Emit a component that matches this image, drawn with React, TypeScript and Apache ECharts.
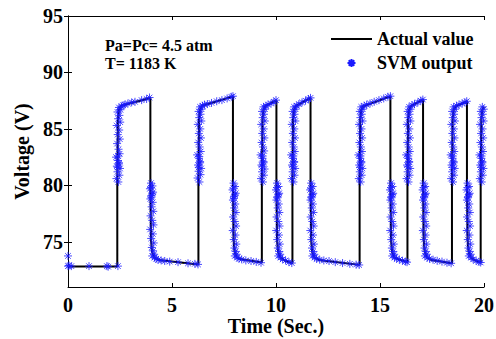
import React, { useEffect, useRef } from "react";
import * as echarts from "echarts";

const TIME_TICKS = [0, 5, 10, 15, 20];
const VOLT_TICKS = [75, 80, 85, 90, 95];
const SERIES_NAMES = ["Actual value", "SVM output"];
const NOTE_LINES = ["Pa=Pc= 4.5 atm", "T= 1183 K"];
const X_TITLE = "Time (Sec.)";
const Y_TITLE = "Voltage (V)";

// Actual value: [time (s), voltage (V)]
const ACTUAL: number[][] = [
  [0, 72.82], [2.37, 72.82], [2.37, 80.2], [2.4, 85.9], [2.45, 86.7], [2.55, 87.05], [3.96, 87.74],
  [3.96, 80.2], [3.99, 75.2], [4.04, 74.1], [4.15, 73.6], [4.35, 73.4], [6.27, 73.0],
  [6.27, 80.2], [6.3, 85.9], [6.35, 86.7], [6.45, 87.05], [7.93, 87.88],
  [7.93, 80.2], [7.96, 75.2], [8.01, 74.1], [8.12, 73.6], [8.32, 73.45], [9.32, 73.17],
  [9.32, 80.2], [9.35, 85.9], [9.4, 86.7], [9.5, 87.05], [10.02, 87.53],
  [10.02, 80.2], [10.05, 75.2], [10.1, 74.1], [10.21, 73.6], [10.41, 73.35], [10.79, 73.1],
  [10.79, 80.2], [10.82, 85.9], [10.87, 86.7], [10.97, 87.05], [11.66, 87.74],
  [11.66, 80.2], [11.69, 75.2], [11.74, 74.1], [11.85, 73.6], [12.05, 73.4], [14.02, 72.96],
  [14.02, 80.2], [14.05, 85.9], [14.1, 86.7], [14.2, 87.0], [15.5, 87.88],
  [15.5, 80.2], [15.53, 75.2], [15.58, 74.1], [15.69, 73.6], [15.89, 73.45], [16.32, 73.2],
  [16.32, 80.2], [16.35, 85.9], [16.4, 86.7], [16.5, 87.05], [17.07, 87.6],
  [17.07, 80.2], [17.1, 75.2], [17.15, 74.1], [17.26, 73.6], [17.46, 73.4], [18.46, 73.1],
  [18.46, 80.2], [18.49, 85.9], [18.54, 86.7], [18.64, 87.0], [19.18, 87.43],
  [19.18, 80.2], [19.21, 75.2], [19.26, 74.1], [19.37, 73.6], [19.57, 73.35], [19.84, 73.17],
  [19.84, 80.2], [19.87, 85.9], [19.92, 86.7], [20, 86.95],
];

// SVM output samples, 0 - 6.3 s
const SVM_PART_1: number[][] = [
  [0, 73.75], [0, 72.85], [0.05, 72.9], [0.16, 72.85], [1.01, 72.85], [1.87, 72.85], [1.93, 72.8], [2.4, 72.85],
  [2.42, 80.3], [2.33, 80.6], [2.47, 80.9], [2.38, 81.2], [2.5, 81.5], [2.35, 81.7], [2.45, 81.9], [2.4, 82.2],
  [2.31, 82.5], [2.48, 82.8], [2.43, 83.2], [2.36, 83.7], [2.49, 84.1], [2.39, 84.5], [2.46, 84.9], [2.34, 85.3],
  [2.51, 85.6], [2.41, 85.9], [2.47, 86.2], [2.38, 86.5], [2.52, 86.7], [2.45, 86.9],
  [2.39, 81.6], [2.45, 82.0], [2.41, 82.6],
  [2.58, 87.0], [2.65, 87.1], [2.73, 87.15], [2.88, 87.25], [3.06, 87.35], [3.22, 87.4], [3.54, 87.55], [3.78, 87.65], [3.92, 87.78],
  [3.99, 80.2], [4.06, 79.95], [3.94, 79.7], [4.09, 79.4], [4.01, 79.1], [3.96, 78.8], [4.07, 78.5], [4.02, 78.1],
  [4.1, 77.7], [3.97, 77.3], [4.05, 76.9], [4.11, 76.5], [3.95, 76.1], [4.08, 75.7], [4.0, 75.3], [4.12, 74.9],
  [4.03, 74.5], [4.09, 74.2], [4.14, 73.9], [4.05, 73.75], [4.16, 73.6],
  [3.99, 79.8], [4.05, 79.25], [4.01, 78.95],
  [4.24, 73.5], [4.33, 73.4], [4.48, 73.35], [4.65, 73.3], [4.89, 73.25], [5.29, 73.2], [5.77, 73.1], [6.1, 73.05], [6.25, 73.0],
];

// SVM output samples, 6.3 - 11.7 s
const SVM_PART_2: number[][] = [
  [6.32, 80.3], [6.23, 80.65], [6.37, 80.95], [6.28, 81.25], [6.4, 81.5], [6.25, 81.8], [6.35, 82.1], [6.3, 82.4],
  [6.21, 82.7], [6.38, 83.0], [6.33, 83.4], [6.26, 83.8], [6.39, 84.2], [6.29, 84.6], [6.36, 85.0], [6.24, 85.4],
  [6.41, 85.7], [6.31, 86.0], [6.37, 86.3], [6.28, 86.55], [6.42, 86.75], [6.35, 86.95],
  [6.29, 81.6], [6.35, 82.0], [6.31, 82.55],
  [6.47, 87.05], [6.56, 87.15], [6.7, 87.2], [6.9, 87.3], [7.15, 87.45], [7.4, 87.55], [7.65, 87.7], [7.85, 87.85], [7.93, 87.9],
  [7.96, 80.2], [8.03, 79.9], [7.91, 79.6], [8.06, 79.3], [7.98, 79.0], [7.93, 78.7], [8.04, 78.35], [7.99, 78.0],
  [8.07, 77.6], [7.94, 77.2], [8.02, 76.8], [8.08, 76.4], [7.92, 76.0], [8.05, 75.6], [7.97, 75.2], [8.09, 74.8],
  [8.0, 74.45], [8.06, 74.15], [8.11, 73.9], [8.02, 73.75], [8.13, 73.6],
  [7.96, 79.75], [8.02, 79.15], [7.98, 78.85],
  [8.22, 73.5], [8.35, 73.45], [8.55, 73.35], [8.8, 73.3], [9.05, 73.22], [9.28, 73.15],
  [9.37, 80.3], [9.28, 80.6], [9.42, 80.9], [9.33, 81.2], [9.45, 81.45], [9.3, 81.8], [9.4, 82.1], [9.35, 82.4],
  [9.26, 82.7], [9.43, 83.05], [9.38, 83.4], [9.31, 83.8], [9.44, 84.2], [9.34, 84.6], [9.41, 85.0], [9.29, 85.4],
  [9.46, 85.7], [9.36, 86.0], [9.42, 86.3], [9.33, 86.55], [9.47, 86.75], [9.4, 86.95],
  [9.34, 81.65], [9.4, 82.0], [9.36, 82.6],
  [9.52, 87.05], [9.62, 87.15], [9.76, 87.25], [9.9, 87.4], [10.0, 87.55],
  [10.05, 80.2], [10.12, 79.9], [10.0, 79.6], [10.15, 79.3], [10.07, 79.0], [10.02, 78.7], [10.13, 78.35], [10.08, 78.0],
  [10.16, 77.6], [10.03, 77.2], [10.11, 76.8], [10.17, 76.4], [10.01, 76.0], [10.14, 75.6], [10.06, 75.2], [10.18, 74.8],
  [10.09, 74.45], [10.15, 74.15], [10.2, 73.9], [10.11, 73.75], [10.22, 73.6],
  [10.05, 79.8], [10.11, 79.2], [10.07, 78.9],
  [10.32, 73.45], [10.46, 73.35], [10.62, 73.2], [10.76, 73.12],
  [10.84, 80.3], [10.75, 80.6], [10.89, 80.9], [10.8, 81.2], [10.92, 81.5], [10.77, 81.8], [10.87, 82.1], [10.82, 82.4],
  [10.73, 82.7], [10.9, 83.0], [10.85, 83.4], [10.78, 83.8], [10.91, 84.2], [10.81, 84.6], [10.88, 85.0], [10.76, 85.4],
  [10.93, 85.7], [10.83, 86.0], [10.89, 86.3], [10.8, 86.55], [10.94, 86.75], [10.87, 86.95],
  [10.81, 81.65], [10.87, 82.05], [10.83, 82.6],
  [11.0, 87.05], [11.1, 87.2], [11.25, 87.35], [11.42, 87.5], [11.56, 87.65], [11.66, 87.75],
];

// SVM output samples, 11.7 - 20 s
const SVM_PART_3: number[][] = [
  [11.69, 80.2], [11.76, 79.9], [11.64, 79.6], [11.79, 79.3], [11.71, 79.0], [11.66, 78.7], [11.77, 78.35], [11.72, 78.0],
  [11.8, 77.6], [11.67, 77.2], [11.75, 76.8], [11.81, 76.4], [11.65, 76.0], [11.78, 75.6], [11.7, 75.2], [11.82, 74.8],
  [11.73, 74.45], [11.79, 74.15], [11.84, 73.9], [11.75, 73.75], [11.86, 73.6],
  [11.69, 79.75], [11.75, 79.2], [11.71, 78.9],
  [11.95, 73.5], [12.1, 73.42], [12.3, 73.35], [12.55, 73.3], [12.85, 73.2], [13.2, 73.12], [13.55, 73.05], [13.85, 72.98], [14.0, 72.95],
  [14.07, 80.3], [13.98, 80.6], [14.12, 80.9], [14.03, 81.2], [14.15, 81.5], [14.0, 81.8], [14.1, 82.1], [14.05, 82.4],
  [13.96, 82.7], [14.13, 83.0], [14.08, 83.4], [14.01, 83.8], [14.14, 84.2], [14.04, 84.6], [14.11, 85.0], [13.99, 85.4],
  [14.16, 85.7], [14.06, 86.0], [14.12, 86.3], [14.03, 86.55], [14.17, 86.75], [14.1, 86.95],
  [14.04, 81.6], [14.1, 82.0], [14.06, 82.6],
  [14.24, 87.05], [14.36, 87.15], [14.52, 87.25], [14.72, 87.4], [14.95, 87.55], [15.18, 87.7], [15.38, 87.85], [15.5, 87.9],
  [15.53, 80.2], [15.6, 79.9], [15.48, 79.6], [15.63, 79.3], [15.55, 79.0], [15.5, 78.7], [15.61, 78.35], [15.56, 78.0],
  [15.64, 77.6], [15.51, 77.2], [15.59, 76.8], [15.65, 76.4], [15.49, 76.0], [15.62, 75.6], [15.54, 75.2], [15.66, 74.8],
  [15.57, 74.45], [15.63, 74.15], [15.68, 73.9], [15.59, 73.75], [15.7, 73.6],
  [15.53, 79.8], [15.59, 79.2], [15.55, 78.9],
  [15.8, 73.5], [15.93, 73.42], [16.08, 73.32], [16.22, 73.25], [16.3, 73.2],
  [16.37, 80.3], [16.28, 80.6], [16.42, 80.9], [16.33, 81.2], [16.45, 81.5], [16.3, 81.8], [16.4, 82.1], [16.35, 82.4],
  [16.26, 82.7], [16.43, 83.0], [16.38, 83.4], [16.31, 83.8], [16.44, 84.2], [16.34, 84.6], [16.41, 85.0], [16.29, 85.4],
  [16.46, 85.7], [16.36, 86.0], [16.42, 86.3], [16.33, 86.55], [16.47, 86.75], [16.4, 86.95],
  [16.34, 81.65], [16.4, 82.05], [16.36, 82.6],
  [16.54, 87.1], [16.66, 87.2], [16.82, 87.35], [16.96, 87.5], [17.06, 87.6],
  [17.1, 80.2], [17.17, 79.9], [17.05, 79.6], [17.2, 79.3], [17.12, 79.0], [17.07, 78.7], [17.18, 78.35], [17.13, 78.0],
  [17.21, 77.6], [17.08, 77.2], [17.16, 76.8], [17.22, 76.4], [17.06, 76.0], [17.19, 75.6], [17.11, 75.2], [17.23, 74.8],
  [17.14, 74.45], [17.2, 74.15], [17.25, 73.9], [17.16, 73.75], [17.27, 73.6],
  [17.1, 79.8], [17.16, 79.2], [17.12, 78.9],
  [17.38, 73.5], [17.55, 73.42], [17.75, 73.32], [17.98, 73.25], [18.22, 73.15], [18.42, 73.1],
  [18.51, 80.3], [18.42, 80.6], [18.56, 80.9], [18.47, 81.2], [18.59, 81.5], [18.44, 81.8], [18.54, 82.1], [18.49, 82.4],
  [18.4, 82.7], [18.57, 83.0], [18.52, 83.4], [18.45, 83.8], [18.58, 84.2], [18.48, 84.6], [18.55, 85.0], [18.43, 85.4],
  [18.6, 85.7], [18.5, 86.0], [18.56, 86.3], [18.47, 86.55], [18.61, 86.75], [18.54, 86.95],
  [18.48, 81.6], [18.54, 82.0], [18.5, 82.6],
  [18.68, 87.05], [18.8, 87.15], [18.95, 87.25], [19.08, 87.35], [19.17, 87.45],
  [19.21, 80.2], [19.28, 79.9], [19.16, 79.6], [19.31, 79.3], [19.23, 79.0], [19.18, 78.7], [19.29, 78.35], [19.24, 78.0],
  [19.32, 77.6], [19.19, 77.2], [19.27, 76.8], [19.33, 76.4], [19.17, 76.0], [19.3, 75.6], [19.22, 75.2], [19.34, 74.8],
  [19.25, 74.45], [19.31, 74.15], [19.36, 73.9], [19.27, 73.75], [19.38, 73.6],
  [19.21, 79.8], [19.27, 79.2], [19.23, 78.9],
  [19.48, 73.45], [19.62, 73.32], [19.76, 73.22], [19.84, 73.17],
  [19.89, 80.3], [19.8, 80.6], [19.94, 80.9], [19.85, 81.2], [19.97, 81.5], [19.82, 81.8], [19.92, 82.1], [19.87, 82.4],
  [19.78, 82.7], [19.95, 83.0], [19.9, 83.4], [19.83, 83.8], [19.96, 84.2], [19.86, 84.6], [19.93, 85.0], [19.81, 85.4],
  [19.98, 85.7], [19.88, 86.0], [19.94, 86.3], [19.85, 86.55], [19.99, 86.75], [19.92, 86.95],
  [19.86, 81.6], [19.92, 82.0], [19.88, 82.6],
];

const STAR = "path://M0,4L8,4M4,0L4,8M1.2,1.2L6.8,6.8M1.2,6.8L6.8,1.2";
const FONT = '"Liberation Serif", "Times New Roman", serif';

export default function App() {
  const ref = useRef<HTMLDivElement>(null);
  useEffect(() => {
    if (!ref.current) return;
    const chart = echarts.init(ref.current, null, { renderer: "svg" });
    const svm = [...SVM_PART_1, ...SVM_PART_2, ...SVM_PART_3];
    const axisLineStyle = { color: "#000", width: 1 };
    chart.setOption({
      animation: false,
      backgroundColor: "#fff",
      grid: { left: 68, right: 12, top: 16, bottom: 52, outerBoundsMode: "none", containLabel: false },
      legend: {
        orient: "vertical",
        left: 330,
        top: 30,
        padding: 0,
        itemWidth: 41,
        itemHeight: 8,
        itemGap: 6,
        selectedMode: false,
        data: SERIES_NAMES,
        textStyle: { fontFamily: FONT, fontWeight: "bold", fontSize: 18, color: "#000", lineHeight: 18 },
      },
      xAxis: [
        {
          type: "value", min: TIME_TICKS[0], max: TIME_TICKS[TIME_TICKS.length - 1], interval: 5, position: "bottom",
          axisLine: { show: true, lineStyle: axisLineStyle },
          axisTick: { show: true, inside: true, length: 4, lineStyle: axisLineStyle },
          axisLabel: { fontFamily: FONT, fontWeight: "bold", fontSize: 20, color: "#000", margin: 8 },
          splitLine: { show: false },
        },
        {
          type: "value", min: TIME_TICKS[0], max: TIME_TICKS[TIME_TICKS.length - 1], interval: 5, position: "top",
          axisLine: { show: true, lineStyle: axisLineStyle },
          axisTick: { show: true, inside: true, length: 4, lineStyle: axisLineStyle },
          axisLabel: { show: false },
          splitLine: { show: false },
        },
      ],
      yAxis: [
        {
          type: "value", min: 71, max: 95, position: "left",
          name: Y_TITLE, nameLocation: "middle", nameGap: 31,
          nameTextStyle: { fontFamily: FONT, fontWeight: "bold", fontSize: 20, color: "#000" },
          axisLine: { show: true, lineStyle: axisLineStyle },
          axisTick: { show: true, inside: true, length: 4, lineStyle: axisLineStyle, customValues: VOLT_TICKS },
          axisLabel: { fontFamily: FONT, fontWeight: "bold", fontSize: 20, color: "#000", margin: 5, customValues: VOLT_TICKS },
          splitLine: { show: false },
        },
        {
          type: "value", min: 71, max: 95, position: "right",
          axisLine: { show: true, lineStyle: axisLineStyle },
          axisTick: { show: true, inside: true, length: 4, lineStyle: axisLineStyle, customValues: VOLT_TICKS },
          axisLabel: { show: false, customValues: VOLT_TICKS },
          splitLine: { show: false },
        },
      ],
      graphic: [
        {
          type: "text", left: 105, top: 36,
          style: {
            text: NOTE_LINES.join("\n"),
            font: `bold 16px ${FONT}`,
            fill: "#000",
            lineHeight: 18,
          },
        },
        {
          type: "text", x: 276, y: 326,
          style: {
            text: X_TITLE,
            font: `bold 20px ${FONT}`,
            fill: "#000",
            align: "center",
            verticalAlign: "middle",
          },
        },
      ],
      series: [
        {
          name: SERIES_NAMES[0], type: "line", data: ACTUAL, xAxisIndex: 0, yAxisIndex: 0,
          showSymbol: false, symbol: "none", lineStyle: { color: "#000", width: 2 },
          itemStyle: { color: "rgba(0,0,0,0)" }, z: 2,
        },
        {
          name: SERIES_NAMES[1], type: "scatter", data: svm, xAxisIndex: 0, yAxisIndex: 0,
          symbol: STAR, symbolSize: 8, symbolKeepAspect: true,
          itemStyle: { color: "#1a1aff", borderColor: "#1a1aff", borderWidth: 0.8, opacity: 1 }, z: 3,
        },
      ],
    });
    return () => chart.dispose();
  }, []);
  return <div ref={ref} style={{ width: 496, height: 339, position: "absolute", left: 0, top: 0 }} />;
}
